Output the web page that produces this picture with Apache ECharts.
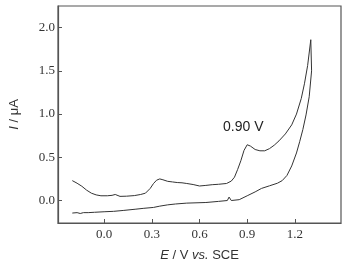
<!DOCTYPE html>
<html>
<head>
<meta charset="utf-8">
<script src="https://cdn.jsdelivr.net/npm/echarts@6/dist/echarts.min.js"></script>
<style>
  html, body { margin: 0; padding: 0; background: #fff; }
  #main { width: 344px; height: 267px; }
</style>
</head>
<body>
<div id="main"></div>
<script>
// anodic branch (upper curve), potential in V, current in µA
var upperE = [-0.20, -0.17, -0.14, -0.11, -0.08, -0.05, -0.02, 0.02, 0.05, 0.07, 0.08, 0.10, 0.14, 0.19, 0.23, 0.26, 0.29, 0.31, 0.33, 0.35, 0.37, 0.40, 0.43, 0.46, 0.49, 0.52, 0.56, 0.60, 0.64, 0.68, 0.72, 0.77, 0.80, 0.82, 0.84, 0.86, 0.88, 0.90, 0.92, 0.95, 0.98, 1.01, 1.04, 1.07, 1.10, 1.14, 1.18, 1.21, 1.24, 1.26, 1.28, 1.30];
var upperI = [0.23, 0.20, 0.165, 0.12, 0.085, 0.065, 0.055, 0.055, 0.06, 0.07, 0.06, 0.048, 0.05, 0.057, 0.07, 0.085, 0.14, 0.195, 0.235, 0.25, 0.24, 0.222, 0.215, 0.208, 0.205, 0.197, 0.185, 0.168, 0.175, 0.183, 0.188, 0.197, 0.225, 0.27, 0.36, 0.46, 0.58, 0.645, 0.63, 0.59, 0.575, 0.575, 0.60, 0.64, 0.69, 0.77, 0.875, 1.0, 1.18, 1.35, 1.56, 1.86];

// return branch (lower curve)
var lowerE = [1.30, 1.305, 1.29, 1.27, 1.25, 1.23, 1.21, 1.18, 1.15, 1.12, 1.09, 1.04, 0.99, 0.95, 0.90, 0.85, 0.80, 0.786, 0.775, 0.72, 0.64, 0.52, 0.45, 0.40, 0.35, 0.31, 0.25, 0.20, 0.12, 0.06, 0.00, -0.06, -0.10, -0.13, -0.15, -0.17, -0.20];
var lowerI = [1.86, 1.5, 1.2, 0.99, 0.82, 0.68, 0.55, 0.40, 0.29, 0.23, 0.20, 0.17, 0.14, 0.10, 0.055, 0.01, 0.0, 0.04, 0.0, -0.01, -0.023, -0.03, -0.04, -0.05, -0.065, -0.08, -0.09, -0.10, -0.115, -0.125, -0.13, -0.136, -0.14, -0.14, -0.15, -0.14, -0.145];

var xTicks = [0, 0.3, 0.6, 0.9, 1.2];
var yTicks = [0, 0.5, 1.0, 1.5, 2.0];
var peakLabel = '0.90 V';

function pairs(xs, ys) {
    return xs.map(function (x, i) { return [x, ys[i]]; });
}

var myChart = echarts.init(document.getElementById('main'));

var nameStyle = {
    fontFamily: 'Liberation Sans', fontSize: 13, color: '#333',
    rich: { i: { fontFamily: 'Liberation Sans', fontStyle: 'italic', fontSize: 13, color: '#333' } }
};

var option = {
    animation: false,
    grid: {
        left: 52, top: 6, right: 3, bottom: 40,
        show: true, borderColor: '#555', borderWidth: 1.2
    },
    xAxis: {
        type: 'value',
        min: -0.29, max: 1.49,
        name: '{i|E} / V {i|vs.} SCE',
        nameLocation: 'middle',
        nameGap: 26,
        nameTextStyle: nameStyle,
        axisLine: { show: true, onZero: false, lineStyle: { color: '#555', width: 1.2 } },
        axisTick: { show: true, inside: true, length: 4, customValues: xTicks, lineStyle: { color: '#555' } },
        axisLabel: {
            customValues: xTicks, margin: 5,
            fontFamily: 'Liberation Serif', fontSize: 13, color: '#333',
            formatter: function (v) { return v.toFixed(1); }
        },
        splitLine: { show: false }
    },
    yAxis: {
        type: 'value',
        min: -0.26, max: 2.25,
        name: '{i|I} / μA',
        nameLocation: 'middle',
        nameGap: 37,
        nameTextStyle: nameStyle,
        axisLine: { show: true, onZero: false, lineStyle: { color: '#555', width: 1.2 } },
        axisTick: { show: true, inside: true, length: 4, customValues: yTicks, lineStyle: { color: '#555' } },
        axisLabel: {
            customValues: yTicks, margin: 3,
            fontFamily: 'Liberation Serif', fontSize: 13, color: '#333',
            formatter: function (v) { return v.toFixed(1); }
        },
        splitLine: { show: false }
    },
    graphic: [{
        type: 'text', left: 223, top: 120,
        style: { text: peakLabel, font: '14px "Liberation Sans"', fill: '#222' }
    }],
    series: [{
        type: 'line', data: pairs(upperE, upperI),
        showSymbol: false, lineStyle: { color: '#333', width: 1 }
    }, {
        type: 'line', data: pairs(lowerE, lowerI),
        showSymbol: false, lineStyle: { color: '#333', width: 1 }
    }]
};

myChart.setOption(option);
</script>
</body>
</html>
